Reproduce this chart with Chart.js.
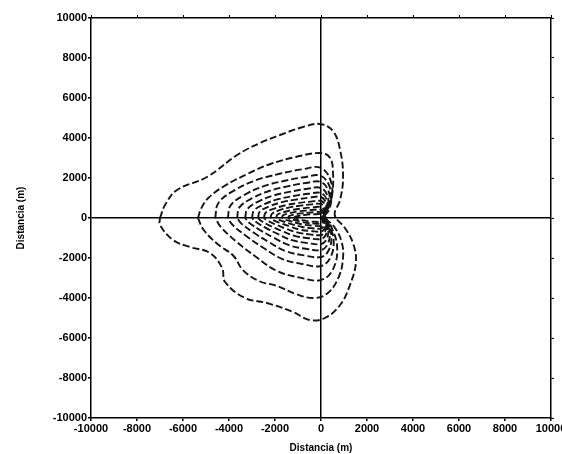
<!DOCTYPE html>
<html>
<head>
<meta charset="utf-8">
<script src="https://cdn.jsdelivr.net/npm/chart.js@4/dist/chart.umd.min.js"></script>
<style>
html,body{margin:0;padding:0;background:#fff;}
#wrap{width:562px;height:454px;position:relative;}
</style>
</head>
<body>
<div id="wrap"><canvas id="c" width="562" height="454"></canvas></div>
<script>
// Axis tick values (m)
const xTickValues = [-10000,-8000,-6000,-4000,-2000,0,2000,4000,6000,8000,10000];
const yTickValues = [-10000,-8000,-6000,-4000,-2000,0,2000,4000,6000,8000,10000];
const xTitle = 'Distancia (m)';
const yTitle = 'Distancia (m)';

// Contour lines, outermost to innermost: [x (m), y (m)]
const contour1 = [[-7000,0],[-6780,650],[-6260,1400],[-4960,2050],[-3650,3150],[-2650,3750],[-1780,4150],[-780,4550],[-40,4700],[520,4350],[830,3400],[960,2050],[830,900],[600,150],[1040,-500],[1390,-1250],[1520,-2200],[1260,-3350],[830,-4350],[170,-5000],[-480,-5100],[-1220,-4700],[-2350,-4250],[-3300,-4000],[-4170,-3200],[-4300,-2500],[-4830,-1750],[-5700,-1450],[-6430,-1100],[-7000,-350],[-7000,0]];
const contour2 = [[-5350,0],[-5200,500],[-4900,1000],[-4200,1600],[-3200,2200],[-2200,2700],[-1100,3050],[0,3250],[400,3000],[520,2300],[500,1300],[350,400],[150,50],[550,-400],[900,-1200],[950,-2100],[750,-3000],[300,-3750],[-300,-4000],[-1100,-3800],[-1900,-3400],[-2700,-3150],[-3400,-2600],[-3800,-1900],[-4500,-1300],[-5100,-600],[-5350,0]];
const contour3 = [[-4600,0],[-4460,750],[-3770,1380],[-2850,1880],[-1840,2200],[-830,2430],[0,2500],[450,1750],[410,750],[180,130],[420,-370],[700,-1400],[530,-2540],[0,-3100],[-920,-2980],[-1930,-2640],[-2850,-1920],[-3680,-1180],[-4370,-430],[-4600,0]];
const contour4 = [[-4050,0],[-3930,630],[-3320,1160],[-2510,1580],[-1620,1850],[-730,2040],[0,2100],[400,1470],[360,630],[160,110],[330,-290],[550,-1080],[410,-1970],[0,-2400],[-810,-2300],[-1700,-2040],[-2510,-1490],[-3240,-910],[-3850,-340],[-4050,0]];
const contour5 = [[-3650,0],[-3540,540],[-2990,990],[-2260,1350],[-1460,1580],[-660,1750],[0,1800],[350,1260],[320,540],[140,90],[270,-230],[450,-880],[340,-1600],[0,-1950],[-730,-1870],[-1530,-1660],[-2260,-1210],[-2920,-740],[-3470,-270],[-3650,0]];
const contour6 = [[-3300,0],[-3200,450],[-2710,830],[-2050,1130],[-1320,1320],[-590,1460],[0,1500],[300,1050],[270,450],[120,80],[230,-190],[380,-720],[290,-1310],[0,-1600],[-660,-1540],[-1390,-1360],[-2050,-990],[-2640,-610],[-3140,-220],[-3300,0]];
const contour7 = [[-3000,0],[-2910,380],[-2460,690],[-1860,940],[-1200,1100],[-540,1210],[0,1250],[260,880],[230,380],[100,60],[190,-160],[320,-590],[240,-1070],[0,-1300],[-600,-1250],[-1260,-1110],[-1860,-810],[-2400,-490],[-2850,-180],[-3000,0]];
const contour8 = [[-2740,0],[-2660,320],[-2250,580],[-1700,790],[-1100,920],[-490,1020],[0,1050],[220,740],[200,320],[90,50],[160,-130],[270,-470],[200,-860],[0,-1050],[-550,-1010],[-1150,-890],[-1700,-650],[-2190,-400],[-2600,-150],[-2740,0]];
const contour9 = [[-2480,0],[-2410,260],[-2030,470],[-1540,640],[-990,750],[-450,820],[0,850],[190,600],[170,260],[80,40],[140,-100],[230,-380],[170,-700],[0,-850],[-500,-820],[-1040,-720],[-1540,-530],[-1980,-320],[-2360,-120],[-2480,0]];
const contour10 = [[-2200,0],[-2130,210],[-1800,390],[-1360,530],[-880,620],[-400,680],[0,700],[160,490],[140,210],[60,40],[110,-80],[190,-310],[140,-560],[0,-680],[-440,-650],[-920,-580],[-1360,-420],[-1760,-260],[-2090,-100],[-2200,0]];
const contour11 = [[-1950,0],[-1890,170],[-1600,300],[-1210,410],[-780,480],[-350,530],[0,550],[130,390],[120,170],[50,30],[90,-60],[150,-240],[110,-430],[0,-530],[-390,-510],[-820,-450],[-1210,-330],[-1560,-200],[-1850,-70],[-1950,0]];
const contour12 = [[-1700,0],[-1650,130],[-1390,230],[-1050,320],[-680,370],[-310,410],[0,420],[100,290],[90,130],[40,20],[70,-50],[120,-180],[90,-330],[0,-400],[-340,-380],[-710,-340],[-1050,-250],[-1360,-150],[-1620,-60],[-1700,0]];
const contour13 = [[-1430,0],[-1390,90],[-1170,170],[-890,230],[-570,260],[-260,290],[0,300],[80,210],[70,90],[30,20],[50,-35],[90,-130],[70,-240],[0,-290],[-290,-280],[-600,-250],[-890,-180],[-1140,-110],[-1360,-40],[-1430,0]];
const contour14 = [[-1170,0],[-1130,60],[-960,110],[-730,150],[-470,180],[-210,190],[0,200],[60,140],[50,60],[20,10],[40,-25],[70,-90],[50,-160],[0,-200],[-230,-190],[-490,-170],[-730,-120],[-940,-80],[-1110,-30],[-1170,0]];

const contours = [contour1,contour2,contour3,contour4,contour5,contour6,contour7,contour8,contour9,contour10,contour11,contour12,contour13,contour14];

const datasets = contours.map((c, i) => ({
  label: 'contour ' + (i + 1),
  data: c.map(p => ({x: p[0], y: p[1]})),
  showLine: true,
  borderColor: '#151515',
  borderWidth: 1.9,
  borderDash: [7, 3],
  pointRadius: 0,
  tension: 0.4,
  fill: false
}));

const tickFont = {family: '"Liberation Sans", Arial, sans-serif', weight: 'bold', size: 11};
const titleFont = {family: '"Liberation Sans", Arial, sans-serif', weight: 'bold', size: 10};
const zeroLine = ctx => (ctx.tick && ctx.tick.value === 0) ? '#000' : 'rgba(0,0,0,0)';
const plain = v => String(v);

new Chart(document.getElementById('c'), {
  type: 'scatter',
  data: {datasets},
  options: {
    responsive: false,
    animation: false,
    events: [],
    layout: {padding: 0},
    plugins: {legend: {display: false}, tooltip: {enabled: false}},
    scales: {
      x: {
        type: 'linear', position: 'bottom', min: -10000, max: 10000,
        afterBuildTicks: s => { s.ticks = xTickValues.map(v => ({value: v})); },
        ticks: {color: '#000', font: tickFont, maxRotation: 0, autoSkip: false, padding: 1, callback: plain},
        grid: {color: zeroLine, lineWidth: 1.5, tickColor: '#000', tickLength: 3},
        border: {color: '#000', width: 1.5},
        title: {display: true, text: xTitle, color: '#000', font: titleFont, padding: {top: 2, bottom: 0}},
        afterFit: s => { s.height = 36; s.paddingLeft = 0; s.paddingRight = 0; }
      },
      y: {
        type: 'linear', position: 'left', min: -10000, max: 10000,
        afterBuildTicks: s => { s.ticks = yTickValues.map(v => ({value: v})); },
        ticks: {color: '#000', font: tickFont, autoSkip: false, padding: 1, callback: plain},
        grid: {color: zeroLine, lineWidth: 1.5, tickColor: '#000', tickLength: 3},
        border: {color: '#000', width: 1.5},
        title: {display: true, text: yTitle, color: '#000', font: titleFont, padding: {top: 15, bottom: 0}},
        afterFit: s => { s.width = 91; s.paddingTop = 0; s.paddingBottom = 0; }
      },
      x2: {
        type: 'linear', position: 'top', min: -10000, max: 10000,
        afterBuildTicks: s => { s.ticks = xTickValues.map(v => ({value: v})); },
        ticks: {display: false},
        grid: {drawOnChartArea: false, color: '#000', tickColor: '#000', tickLength: 3},
        border: {color: '#000', width: 1.5},
        afterFit: s => { s.height = 18; s.paddingLeft = 0; s.paddingRight = 0; }
      },
      y2: {
        type: 'linear', position: 'right', min: -10000, max: 10000,
        afterBuildTicks: s => { s.ticks = yTickValues.map(v => ({value: v})); },
        ticks: {display: false},
        grid: {drawOnChartArea: false, color: '#000', tickColor: '#000', tickLength: 3},
        border: {color: '#000', width: 1.5},
        afterFit: s => { s.width = 11; s.paddingTop = 0; s.paddingBottom = 0; }
      }
    }
  }
});
</script>
</body>
</html>
